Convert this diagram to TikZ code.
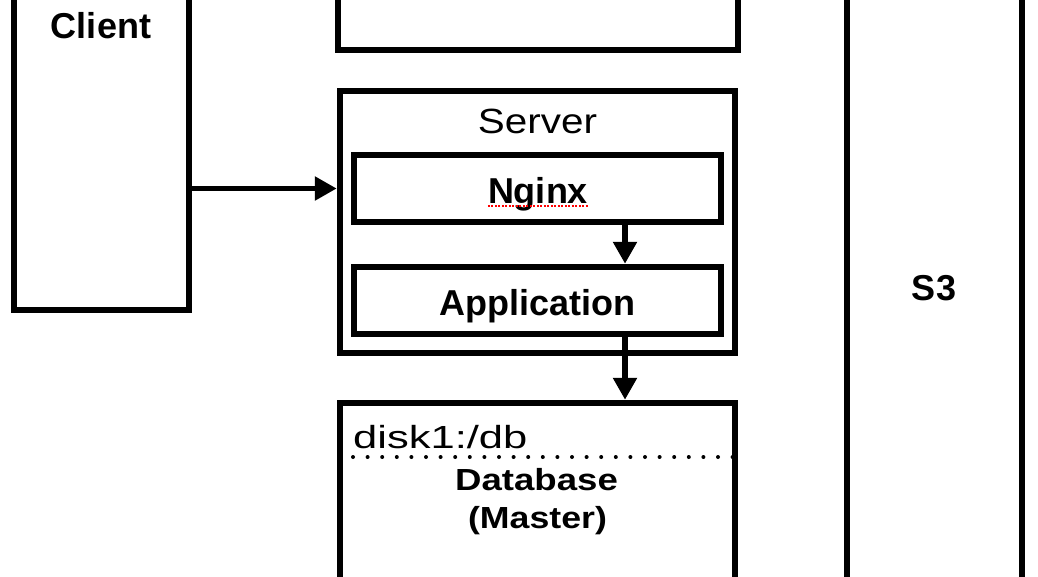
\documentclass[tikz,border=0pt]{standalone}
\usepackage{fontspec}
\setmainfont{Liberation Sans}
\usepackage{graphicx}
\usetikzlibrary{arrows.meta,calc}
\newcommand{\myxs}[2]{\scalebox{#1}[1]{#2}}
\newcommand{\fBigBold}{\fontsize{36}{40}\selectfont\bfseries}
\newcommand{\fBigReg}{\fontsize{35}{40}\selectfont}
\newcommand{\fDbBold}{\fontsize{30.5}{34}\selectfont\bfseries}
\newcommand{\fDiskReg}{\fontsize{32}{36}\selectfont}
\tikzset{
  box/.style={draw=black, line width=6.5pt, inner sep=0pt, fill=none},
  txt/.style={inner sep=0pt, anchor=base, text=black},
  arr/.style={line width=5.5pt, -{Triangle[length=22pt,width=23pt]}},
}
\begin{document}
\begin{tikzpicture}[x=1pt,y=1pt]
\useasboundingbox (0,-576) rectangle (1038,0);
\fill[white] (0,-576) rectangle (1038,0);
\clip (0,-576) rectangle (1038,0);
% boxes
\node[box, minimum width=175pt, minimum height=330pt] (client) at (101.5,-145) {};
\node[box, minimum width=400pt, minimum height=67pt] (top) at (538,-16.5) {};
\node[box, minimum width=395pt, minimum height=262pt] (server) at (537.5,-222) {};
\node[box, minimum width=367pt, minimum height=67pt] (nginx) at (537.5,-188.5) {};
\node[box, minimum width=367pt, minimum height=67pt] (app) at (537.5,-300.5) {};
\node[box, minimum width=395pt, minimum height=217pt] (db) at (537.5,-511.5) {};
\node[box, minimum width=175pt, minimum height=620pt] (s3) at (934.5,-290) {};
% texts
\node[txt] (tclient) at (101,-38) {\fBigBold Client};
\node[txt] (tserver) at (537.5,-133) {\fBigReg\myxs{1.155}{Server}};
\node[txt] (tnginx) at (538,-203) {\fBigBold Nginx};
\node[txt] (tapp) at (537.5,-315) {\fBigBold Application};
\node[txt, anchor=base west] (tdisk) at (353,-448) {\fDiskReg\myxs{1.36}{disk1:/db}};
\node[txt] (tdb) at (536.5,-490) {\fDbBold\myxs{1.2}{Database}};
\node[txt] (tmaster) at (537.5,-528) {\fDbBold\myxs{1.17}{(Master)}};
\node[txt] (ts3) at (934,-300) {\fBigBold S3};
% spell-check underline
\draw[red, line width=1.3pt, dash pattern=on 2pt off 1.5pt]
  ([yshift=-3pt]tnginx.base west) -- ([yshift=-3pt]tnginx.base east);
% dotted separator
\coordinate (dl) at (353,-457);
\draw[line width=4pt, line cap=round, dash pattern=on 0pt off 14.6pt]
  (dl) -- (dl -| db.east);
% arrows
\draw[arr] (client.east |- nginx.west) -- (server.west |- nginx.west);
\draw[arr] ($(nginx.south)+(87.5,0)$) -- ($(app.north)+(87.5,0)$);
\draw[arr] ($(app.south)+(87.5,0)$) -- ($(db.north)+(87.5,0)$);
\end{tikzpicture}
\end{document}
